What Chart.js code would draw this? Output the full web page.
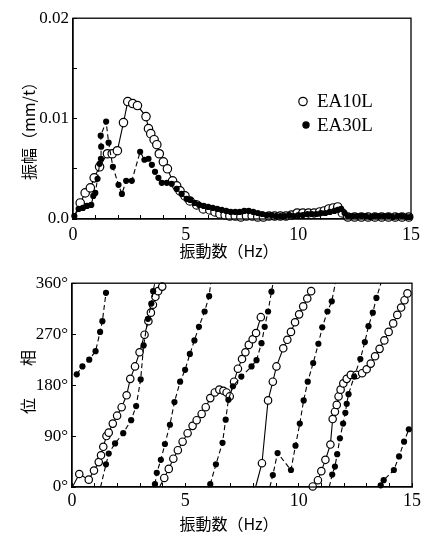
<!DOCTYPE html>
<html>
<head>
<meta charset="utf-8">
<script src="https://cdn.jsdelivr.net/npm/chart.js@4/dist/chart.umd.min.js"></script>
<style>
  body { margin: 0; background: #fff; }
  #wrap { position: relative; width: 437px; height: 535px; }
  #ampBox { position: absolute; left: 0; top: 0; width: 437px; height: 265px; }
  #phaseBox { position: absolute; left: 0; top: 265px; width: 437px; height: 270px; }
</style>
</head>
<body>
<div id="wrap">
  <div id="ampBox"><canvas id="ampChart"></canvas></div>
  <div id="phaseBox"><canvas id="phaseChart"></canvas></div>
</div>
<script>
// 振幅 (上段)
const ampFreq10 = [0, 0.32, 0.54, 0.77, 0.94, 1.18, 1.53, 1.74, 1.97, 2.24, 2.43, 2.65, 2.86, 3.24, 3.35, 3.45, 3.6, 3.72, 3.83, 4.01, 4.19, 4.42, 4.6, 4.75, 4.97, 5.19, 5.49, 5.78, 6.07, 6.3, 6.52, 6.75, 6.96, 7.2, 7.45, 7.7, 7.95, 8.2, 8.45, 8.7, 8.95, 9.2, 9.45, 9.7, 9.95, 10.2, 10.45, 10.7, 10.95, 11.15, 11.35, 11.55, 11.75, 11.95, 12.2, 12.5, 12.8, 13.1, 13.4, 13.7, 14.0, 14.3, 14.6, 14.9];
const amp10 = [0, 0.0016, 0.0026, 0.0031, 0.0041, 0.0052, 0.0065, 0.0065, 0.0068, 0.0096, 0.0117, 0.0115, 0.0113, 0.0102, 0.0090, 0.0085, 0.0079, 0.0074, 0.0065, 0.0057, 0.0050, 0.0038, 0.0033, 0.0028, 0.0023, 0.0018, 0.0014, 0.0010, 0.0009, 0.0007, 0.0005, 0.0004, 0.0003, 0.0003, 0.0002, 0.0003, 0.0003, 0.0002, 0.0002, 0.0003, 0.0003, 0.0003, 0.0003, 0.0004, 0.0006, 0.0006, 0.0006, 0.0006, 0.0007, 0.0008, 0.0010, 0.0011, 0.0012, 0.0006, 0.0002, 0.0002, 0.0002, 0.0002, 0.0002, 0.0002, 0.0002, 0.0002, 0.0002, 0.0002];

const ampFreq30 = [0.06, 0.25, 0.44, 0.62, 0.81, 0.9, 0.99, 1.09, 1.18, 1.24, 1.25, 1.23, 1.47, 1.58, 1.77, 2.02, 2.17, 2.36, 2.61, 2.98, 3.17, 3.35, 3.5, 3.64, 3.79, 3.94, 4.16, 4.38, 4.6, 4.82, 5.04, 5.2, 5.4, 5.6, 5.8, 6.0, 6.2, 6.4, 6.6, 6.8, 7.0, 7.2, 7.4, 7.6, 7.8, 8.0, 8.2, 8.4, 8.6, 8.8, 9.0, 9.2, 9.4, 9.6, 9.8, 10.0, 10.2, 10.4, 10.6, 10.8, 11.0, 11.2, 11.4, 11.6, 11.75, 11.9, 12.05, 12.2, 12.4, 12.6, 12.8, 13.0, 13.2, 13.4, 13.6, 13.8, 14.0, 14.2, 14.4, 14.6, 14.8, 14.95];
const amp30 = [0.0003, 0.0010, 0.0011, 0.0013, 0.0014, 0.0023, 0.0026, 0.0040, 0.0055, 0.0060, 0.0072, 0.0083, 0.0097, 0.0076, 0.0052, 0.0034, 0.0025, 0.0038, 0.0038, 0.0067, 0.0059, 0.0060, 0.0054, 0.0047, 0.0041, 0.0036, 0.0036, 0.0035, 0.0030, 0.0025, 0.0020, 0.0019, 0.0016, 0.0014, 0.0013, 0.0012, 0.0011, 0.0010, 0.0009, 0.0008, 0.0007, 0.0007, 0.0007, 0.0008, 0.0008, 0.0007, 0.0006, 0.0005, 0.0004, 0.0004, 0.0003, 0.0003, 0.0003, 0.0004, 0.0003, 0.0004, 0.0004, 0.0005, 0.0005, 0.0005, 0.0006, 0.0006, 0.0007, 0.0008, 0.0009, 0.0010, 0.0006, 0.0003, 0.0003, 0.0003, 0.0003, 0.0003, 0.0002, 0.0003, 0.0003, 0.0003, 0.0003, 0.0002, 0.0003, 0.0003, 0.0002, 0.0002];

// 位相 (下段)  null で線を切る
const phaseFreq10 = [
  0.02, 0.32, 0.74, 0.97, 1.18, 1.28, 1.38, 1.52, 1.62, 1.8, 1.99, 2.19, 2.41, 2.57, 2.78, 2.98, 3.2, 3.37, 3.48, 3.57, 3.68, 3.8, 3.98, null,
  3.86, 4.07, 4.27, 4.47, 4.67, 4.88, 5.1, 5.32, 5.5, 5.72, 5.9, 6.1, 6.3, 6.5, 6.68, 6.82, 6.96, 7.15, 7.32, 7.5, 7.65, 7.8, 7.97, 8.12, 8.33, null,
  8.1, 8.38, 8.65, 8.86, 9.02, 9.32, 9.5, 9.66, 9.84, 10.02, 10.2, 10.38, 10.55, null,
  10.62, 10.85, 11.0, 11.18, 11.4, 11.5, 11.6, 11.68, 11.76, 11.85, 11.97, 12.12, 12.3, 12.55, 12.8, 13.0, 13.18, 13.37, 13.57, 13.78, 13.97, 14.17, 14.35, 14.52, 14.67, 14.8
];
const phase10 = [
  0, 23, 13, 29, 44, 56, 71, 90, 96, 112, 126, 141, 162, 191, 213, 238, 269, 293, 308, 322, 336, 346, 354, null,
  0, 16, 32, 50, 65, 80, 95, 108, 118, 129, 141, 157, 167, 172, 170, 167, 160, 186, 209, 226, 238, 251, 261, 272, 300, null,
  0, 42, 153, 186, 213, 245, 260, 274, 291, 305, 319, 333, 346, null,
  1, 12, 28, 48, 75, 120, 133, 145, 160, 172, 183, 191, 198, 198, 201, 208, 218, 231, 244, 259, 274, 289, 304, 317, 330, 342
];

const phaseFreq30 = [
  0.21, 0.46, 0.76, 1.04, 1.24, 1.34, 1.5, null,
  1.26, 1.5, 1.62, 1.9, 2.26, 2.61, 2.83, 3.03, 3.16, 3.35, 3.5, 3.58, 3.65, null,
  3.66, 3.74, 3.92, 4.1, 4.32, 4.52, 4.77, 4.99, 5.2, 5.4, 5.6, 5.85, 6.05, 6.12, null,
  6.1, 6.35, 6.64, 6.78, 6.9, 7.1, 7.47, 7.92, 8.14, 8.36, 8.5, 8.65, 8.8, 8.87, null,
  8.73, 8.86, 9.07, 9.66, 9.86, 10.05, 10.22, 10.4, 10.64, 10.87, 11.04, 11.27, 11.46, 11.62, null,
  11.35, 11.48, 11.6, 11.7, 11.82, 11.96, 12.06, 12.12, 12.2, 12.45, 12.72, 12.92, 13.08, 13.27, 13.43, 13.63, null,
  13.62, 13.75, 14.2, 14.43, 14.65, 14.86
];
const phase30 = [
  199, 213, 225, 240, 274, 293, 343, null,
  0, 40, 59, 77, 95, 118, 143, 190, 250, 297, 324, 346, 360, null,
  5, 25, 48, 76, 110, 150, 186, 207, 235, 259, 283, 310, 337, 360, null,
  5, 40, 78, 119, 154, 178, 195, 213, 224, 254, 283, 310, 345, 360, null,
  0, 21, 60, 30, 73, 112, 153, 186, 219, 253, 282, 310, 328, 360, null,
  0, 22, 36, 58, 86, 112, 131, 147, 164, 195, 226, 256, 284, 308, 334, 360, null,
  3, 12, 30, 54, 80, 102
];

const freqTickLabels = [0, 5, 10, 15];
const ampTicks = [0, 0.01, 0.02];
const ampTickLabels = ["0.0", "0.01", "0.02"];
const phaseTicks = [0, 90, 180, 270, 360];
const phaseTickLabels = ["0°", "90°", "180°", "270°", "360°"];

const seriesNames = ["EA10L", "EA30L"];
const xTitle = "振動数（Hz）";
const ampTitle = "振幅（mm/t）";
const phaseTitle = "位　　相";

const serif = "'Liberation Serif', 'Times New Roman', serif";
const cjk = "'Noto Sans CJK JP', sans-serif";

function pts(xs, ys) {
  return xs.map((x, i) => ({ x: x, y: ys[i] }));
}

// 0° / 360° の端点は印なし(線だけ)
function radiusFor(r) {
  return ctx => {
    const v = ctx.raw;
    if (v && (v.y === 0 || v.y === 360)) return 0;
    return r;
  };
}

function openSeries(data, r) {
  return {
    label: seriesNames[0],
    data: data,
    borderColor: "#000",
    borderWidth: 1.1,
    pointRadius: radiusFor(r),
    pointBackgroundColor: "#fff",
    pointBorderColor: "#000",
    pointBorderWidth: 1.2,
    tension: 0,
    clip: false,
    order: 1
  };
}

function filledSeries(data, r) {
  return {
    label: seriesNames[1],
    data: data,
    borderColor: "#000",
    borderWidth: 1.1,
    borderDash: [5, 3],
    pointRadius: radiusFor(r),
    pointBackgroundColor: "#000",
    pointBorderColor: "#000",
    pointBorderWidth: 0,
    tension: 0,
    clip: false,
    order: 0
  };
}

// 枠
const frame = {
  id: "frame",
  afterDraw(chart) {
    const a = chart.chartArea;
    const c = chart.ctx;
    c.save();
    c.strokeStyle = "#000";
    c.lineWidth = 1.3;
    c.strokeRect(a.left, a.top, a.right - a.left, a.bottom - a.top);
    c.restore();
  }
};

// 軸タイトル
const axisTitles = {
  id: "axisTitles",
  afterDraw(chart, args, opts) {
    const c = chart.ctx;
    c.save();
    c.fillStyle = "#000";
    c.font = "16px " + cjk;
    c.textAlign = "center";
    c.textBaseline = "middle";
    c.fillText(opts.xText, opts.xPos[0], opts.xPos[1]);
    c.translate(opts.yPos[0], opts.yPos[1]);
    c.rotate(-Math.PI / 2);
    c.fillText(opts.yText, 0, 0);
    c.restore();
  }
};

// 凡例 (グラフ内)
const insideLegend = {
  id: "insideLegend",
  afterDraw(chart, args, opts) {
    if (!opts.rows) return;
    const c = chart.ctx;
    c.save();
    c.font = "19px " + serif;
    c.textBaseline = "middle";
    c.fillStyle = "#000";
    opts.rows.forEach((row, i) => {
      const ds = chart.data.datasets[i];
      c.beginPath();
      c.arc(row[0], row[1], row[2], 0, Math.PI * 2);
      c.fillStyle = ds.pointBackgroundColor;
      c.fill();
      c.lineWidth = 1.2;
      c.strokeStyle = "#000";
      c.stroke();
      c.fillStyle = "#000";
      c.fillText(ds.label, 317, row[1] + 1);
    });
    c.restore();
  }
};

function freqAxis(labelPad) {
  return {
    type: "linear",
    min: 0,
    max: 15,
    ticks: {
      stepSize: 1,
      autoSkip: false,
      maxRotation: 0,
      padding: labelPad,
      color: "#000",
      font: { family: serif, size: 18 },
      callback: v => freqTickLabels.includes(v) ? String(v) : ""
    },
    grid: { drawOnChartArea: false, tickLength: -4, color: "#000", lineWidth: 1 },
    border: { color: "#000", width: 1.3 },
    afterFit: s => { s.height = 46; }
  };
}

const ampChart = new Chart(document.getElementById("ampChart"), {
  type: "line",
  data: {
    datasets: [
      openSeries(pts(ampFreq10, amp10), 4.2),
      filledSeries(pts(ampFreq30, amp30), 3.1)
    ]
  },
  options: {
    responsive: true,
    maintainAspectRatio: false,
    animation: false,
    layout: { padding: { top: 14, right: 26, left: 0, bottom: 0 } },
    scales: {
      x: freqAxis(9),
      y: {
        type: "linear",
        min: 0,
        max: 0.02,
        ticks: {
          stepSize: 0.005,
          padding: 8,
          color: "#000",
          font: { family: serif, size: 17 },
          callback: v => {
            const i = ampTicks.findIndex(t => Math.abs(t - v) < 1e-9);
            return i >= 0 ? ampTickLabels[i] : "";
          }
        },
        grid: { drawOnChartArea: false, tickLength: -4, color: "#000" },
        border: { color: "#000", width: 1.3 },
        afterFit: s => { s.width = 73; }
      }
    },
    plugins: {
      legend: { display: false },
      tooltip: { enabled: false },
      axisTitles: { xText: xTitle, xPos: [229, 251], yText: ampTitle, yPos: [29, 127] },
      insideLegend: { rows: [[303, 101.5, 4.2], [306, 125, 3.1]] }
    }
  },
  plugins: [frame, axisTitles, insideLegend]
});

const phaseX = freqAxis(7);
phaseX.afterFit = s => { s.height = 48; };

const phaseChart = new Chart(document.getElementById("phaseChart"), {
  type: "line",
  data: {
    datasets: [
      openSeries(pts(phaseFreq10, phase10), 3.7),
      filledSeries(pts(phaseFreq30, phase30), 3.1)
    ]
  },
  options: {
    responsive: true,
    maintainAspectRatio: false,
    animation: false,
    spanGaps: false,
    layout: { padding: { top: 18, right: 25, left: 0, bottom: 0 } },
    scales: {
      x: phaseX,
      y: {
        type: "linear",
        min: 0,
        max: 360,
        ticks: {
          stepSize: 90,
          padding: 8,
          color: "#000",
          font: { family: serif, size: 17 },
          callback: v => {
            const i = phaseTicks.indexOf(v);
            return i >= 0 ? phaseTickLabels[i] : "";
          }
        },
        grid: { drawOnChartArea: false, tickLength: -4, color: "#000" },
        border: { color: "#000", width: 1.3 },
        afterFit: s => { s.width = 72; }
      }
    },
    plugins: {
      legend: { display: false },
      tooltip: { enabled: false },
      axisTitles: { xText: xTitle, xPos: [229, 259], yText: phaseTitle, yPos: [28, 117] },
      insideLegend: {}
    }
  },
  plugins: [frame, axisTitles, insideLegend]
});
</script>
</body>
</html>
